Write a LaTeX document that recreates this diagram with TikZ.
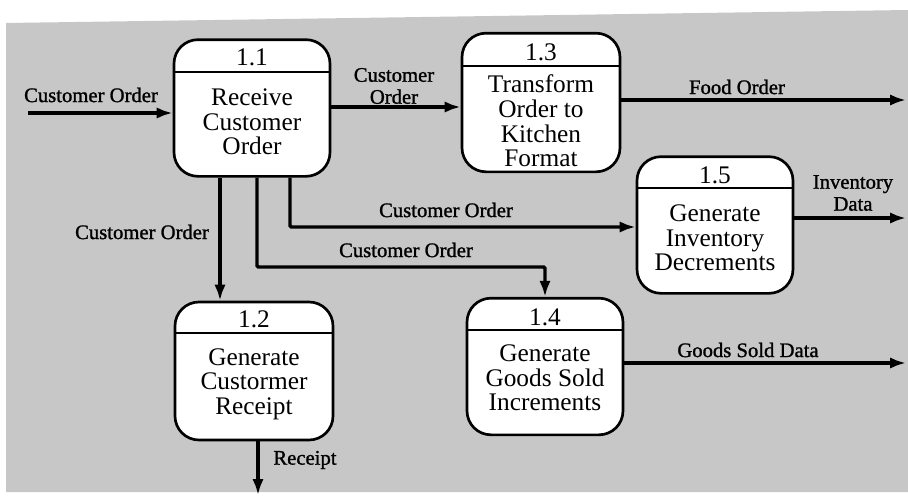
\documentclass[tikz,border=0pt]{standalone}
\usepackage{fontspec}
\setmainfont{Liberation Serif}
\newfontfamily\labelfont[FakeBold=1.2]{Liberation Serif}
\usetikzlibrary{arrows.meta}

\begin{document}
\begin{tikzpicture}[x=0.75pt,y=-0.75pt,
  procbox/.style={draw=black,fill=white,line width=2pt,rounded corners=18pt,
    minimum width=117pt,minimum height=102.5pt,inner sep=0pt},
  divider/.style={line width=0.9pt},
  boxnum/.style={font=\fontsize{19}{18}\selectfont,inner sep=0pt},
  boxtext/.style={font=\fontsize{19}{18.5}\selectfont,align=center,inner sep=0pt},
  flowlabel/.style={font=\labelfont\fontsize{15.5}{16.5}\selectfont,align=center,inner sep=0pt},
  flow/.style={line width=2.6pt,-{Latex[length=12pt,width=8.5pt]}}]

\useasboundingbox (0,0) rectangle (908,496);
% halftone page tint
\fill[black!22] (6,23) -- (908,10) -- (908,492) -- (6,492) -- cycle;

% processes
\node[procbox] (p11) at (252,108) {};
\node[procbox,minimum width=118.5pt,minimum height=104pt] (p13) at (541,102.5) {};
\node[procbox] (p15) at (715,225) {};
\node[procbox,minimum width=118.5pt,minimum height=103.5pt] (p12) at (254,371) {};
\node[procbox] (p14) at (545,366.5) {};

% header dividers
\draw[divider] (p11.west |- 0,72) -- (p11.east |- 0,72);
\draw[divider] (p13.west |- 0,66) -- (p13.east |- 0,66);
\draw[divider] (p15.west |- 0,188) -- (p15.east |- 0,188);
\draw[divider] (p12.west |- 0,333) -- (p12.east |- 0,333);
\draw[divider] (p14.west |- 0,330) -- (p14.east |- 0,330);

% process numbers
\node[boxnum] (n11) at (252,57) {1.1};
\node[boxnum] (n13) at (541,52) {1.3};
\node[boxnum] (n15) at (715,175) {1.5};
\node[boxnum] (n12) at (254,319) {1.2};
\node[boxnum] (n14) at (545,317) {1.4};

% process names
\node[boxtext] (t11) at (252,122) {Receive\\Customer\\Order};
\node[boxtext] (t13) at (541,121) {Transform\\Order to\\Kitchen\\Format};
\node[boxtext] (t15) at (715,238) {Generate\\Inventory\\Decrements};
\node[boxtext] (t12) at (254,384) {Generate\\Custormer\\Receipt};
\node[boxtext] (t14) at (545,378) {Generate\\Goods Sold\\Increments};

% external ends
\coordinate (src) at (28,113);
\coordinate (foodEnd) at (906,100);
\coordinate (invEnd) at (906,218);
\coordinate (goodsEnd) at (906,363);
\coordinate (rcptEnd) at (258,495);

% flows
\draw[flow] (src) -- (p11.west |- src);
\draw[flow] (p11.east |- 0,107) -- (p13.west |- 0,107);
\draw[flow] (p13.east |- foodEnd) -- (foodEnd);
\draw[flow] (p15.east |- invEnd) -- (invEnd);
\draw[flow] (p14.east |- goodsEnd) -- (goodsEnd);
\draw[flow] (p12.south -| rcptEnd) -- (rcptEnd);
\draw[flow] (p11.south -| 220,0) -- (p12.north -| 220,0);
\draw[flow,rounded corners=1pt] (p11.south -| 257,0) -- (257,267) -- (545,267) -- (p14.north -| 545,0);
\draw[flow,rounded corners=1pt] (p11.south -| 290,0) -- (290,227) -- (p15.west |- 0,227);

% flow labels
\node[flowlabel] (lin) at (91,95) {Customer Order};
\node[flowlabel] (l13) at (394,86) {Customer\\Order};
\node[flowlabel] (lfood) at (737,87) {Food Order};
\node[flowlabel] (linv) at (853,193) {Inventory\\Data};
\node[flowlabel] (lgoods) at (748,350) {Goods Sold Data};
\node[flowlabel] (lrcpt) at (305,460) {Receipt};
\node[flowlabel] (l12) at (142,232) {Customer Order};
\node[flowlabel] (l15) at (446,210) {Customer Order};
\node[flowlabel] (l14) at (406,250) {Customer Order};
\end{tikzpicture}
\end{document}
